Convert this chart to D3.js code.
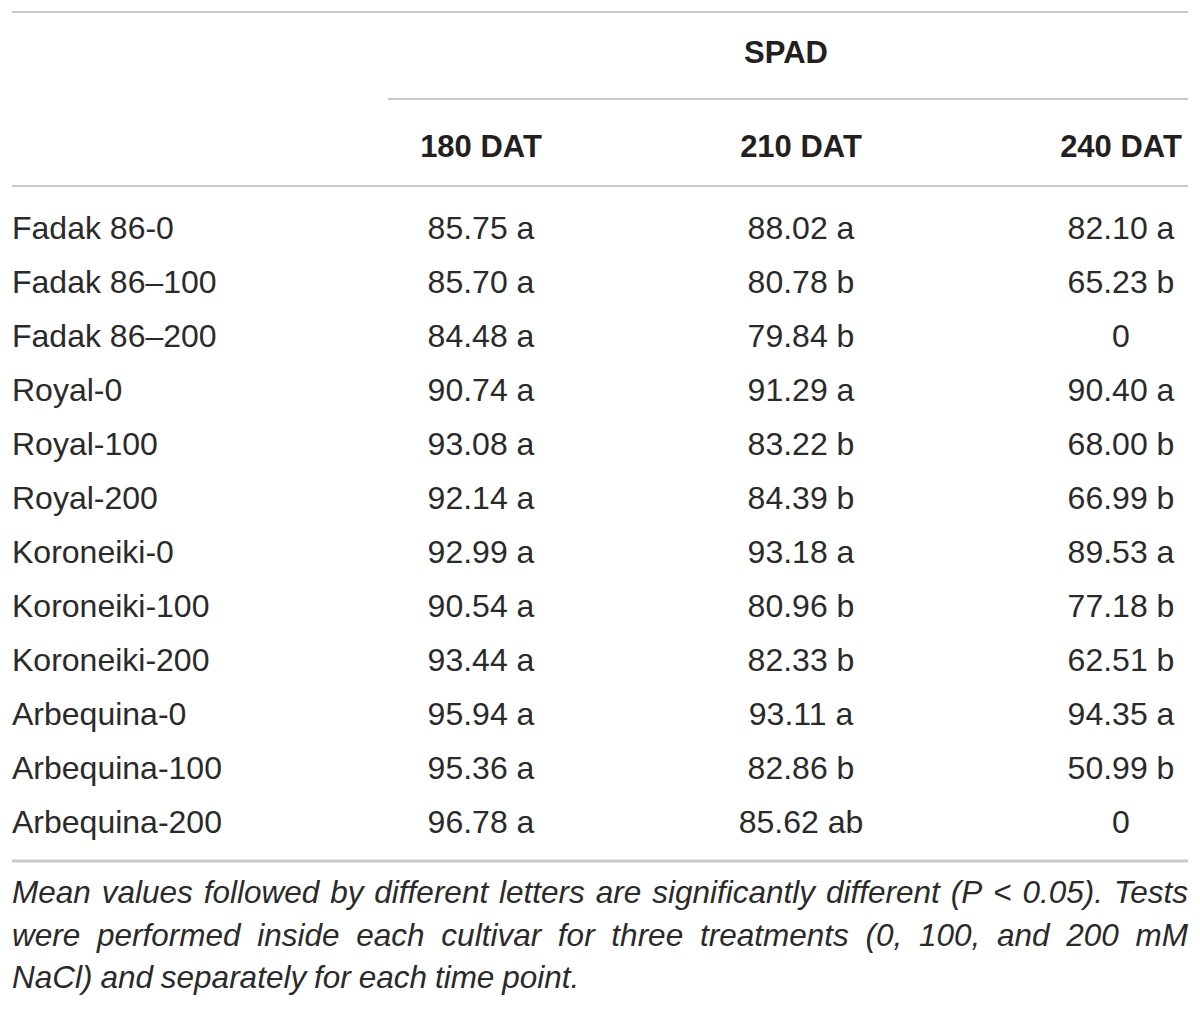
<!DOCTYPE html>
<html>
<head>
<meta charset="utf-8">
<script src="https://cdn.jsdelivr.net/npm/d3@7"></script>
<style>
  html, body { margin: 0; padding: 0; background: #fff; }
  svg { display: block; }
  text { font-family: "Liberation Sans", Arial, Helvetica, sans-serif; fill: #231f20; }
</style>
</head>
<body>
<svg id="chart" width="1200" height="1009"></svg>
<script>
const groupHeader = "SPAD";
const columns = ["180 DAT", "210 DAT", "240 DAT"];
const rows = ["Fadak 86-0", "Fadak 86\u2013100", "Fadak 86\u2013200", "Royal-0", "Royal-100", "Royal-200",
  "Koroneiki-0", "Koroneiki-100", "Koroneiki-200", "Arbequina-0", "Arbequina-100", "Arbequina-200"];
const values180 = [85.75, 85.70, 84.48, 90.74, 93.08, 92.14, 92.99, 90.54, 93.44, 95.94, 95.36, 96.78];
const letters180 = ["a", "a", "a", "a", "a", "a", "a", "a", "a", "a", "a", "a"];
const values210 = [88.02, 80.78, 79.84, 91.29, 83.22, 84.39, 93.18, 80.96, 82.33, 93.11, 82.86, 85.62];
const letters210 = ["a", "b", "b", "a", "b", "b", "a", "b", "b", "a", "b", "ab"];
const values240 = [82.10, 65.23, 0, 90.40, 68.00, 66.99, 89.53, 77.18, 62.51, 94.35, 50.99, 0];
const letters240 = ["a", "b", "", "a", "b", "b", "a", "b", "b", "a", "b", ""];
const footnoteLines = [
  "Mean values followed by different letters are significantly different (P < 0.05). Tests",
  "were performed inside each cultivar for three treatments (0, 100, and 200 mM",
  "NaCl) and separately for each time point."
];

const svg = d3.select("#chart");
const left = 12, right = 1188;
const lineColor = "#c9c9c9";

const colValues = [values180, values210, values240];
const colLetters = [letters180, letters210, letters240];

const x = d3.scalePoint().domain(columns).range([481, 1121]);
const y = d3.scaleBand().domain(rows).range([200, 848]).padding(0);
const fmt = v => v === 0 ? "0" : d3.format(".2f")(v);

// rules
const rules = [
  {x1: left, x2: right, y: 12, w: 2},
  {x1: 388, x2: right, y: 99, w: 2},
  {x1: left, x2: right, y: 186, w: 2},
  {x1: left, x2: right, y: 861, w: 3}
];
svg.selectAll("line.rule").data(rules).join("line")
  .attr("class", "rule")
  .attr("x1", d => d.x1).attr("x2", d => d.x2)
  .attr("y1", d => d.y).attr("y2", d => d.y)
  .attr("stroke", lineColor).attr("stroke-width", d => d.w);

// group header
svg.append("text")
  .attr("x", (388 + right) / 2 - 2).attr("y", 63)
  .attr("text-anchor", "middle")
  .style("font-size", "31px").style("font-weight", "bold")
  .text(groupHeader);

// column headers
svg.selectAll("text.colhead").data(columns).join("text")
  .attr("class", "colhead")
  .attr("x", d => x(d)).attr("y", 157)
  .attr("text-anchor", "middle")
  .style("font-size", "31px").style("font-weight", "bold")
  .text(d => d);

// row labels
svg.selectAll("text.rowlab").data(rows).join("text")
  .attr("class", "rowlab")
  .attr("x", left).attr("y", d => y(d) + y.bandwidth() / 2 + 12)
  .style("font-size", "32px").style("fill", "#2a2a2a")
  .text(d => d);

// cells
const cells = [];
columns.forEach((c, ci) => rows.forEach((r, ri) => {
  const v = colValues[ci][ri], l = colLetters[ci][ri];
  cells.push({c, r, t: l ? fmt(v) + " " + l : fmt(v)});
}));
svg.selectAll("text.cell").data(cells).join("text")
  .attr("class", "cell")
  .attr("x", d => x(d.c)).attr("y", d => y(d.r) + y.bandwidth() / 2 + 12)
  .attr("text-anchor", "middle")
  .style("font-size", "32px").style("fill", "#2a2a2a")
  .text(d => d.t);

// footnote, justified with fixed line breaks
const fnSize = 31.5;
const fnWidth = right - left;
const baselines = [903, 946, 988];
footnoteLines.forEach((line, li) => {
  const ws = line.split(" ").map(w => ({w, len: 0}));
  const g = svg.append("g");
  const texts = g.selectAll("text").data(ws).join("text")
    .style("font-size", fnSize + "px").style("font-style", "italic").style("fill", "#2a2a2a")
    .attr("y", baselines[li])
    .text(d => d.w);
  texts.each(function(d) { d.len = this.getComputedTextLength(); });
  const total = d3.sum(ws, d => d.len);
  const last = li === footnoteLines.length - 1;
  let gap = (!last && ws.length > 1) ? (fnWidth - total) / (ws.length - 1) : fnSize * 0.25;
  if (gap < 4) {
    // too tight: compress horizontally to keep the reference line breaks
    const k = (fnWidth - 4 * (ws.length - 1)) / total;
    ws.forEach(d => d.len *= k);
    texts.attr("textLength", d => d.len).attr("lengthAdjust", "spacingAndGlyphs");
    gap = 4;
  }
  let cx = left;
  texts.attr("x", d => { const p = cx; cx += d.len + gap; return p; });
});
</script>
</body>
</html>
